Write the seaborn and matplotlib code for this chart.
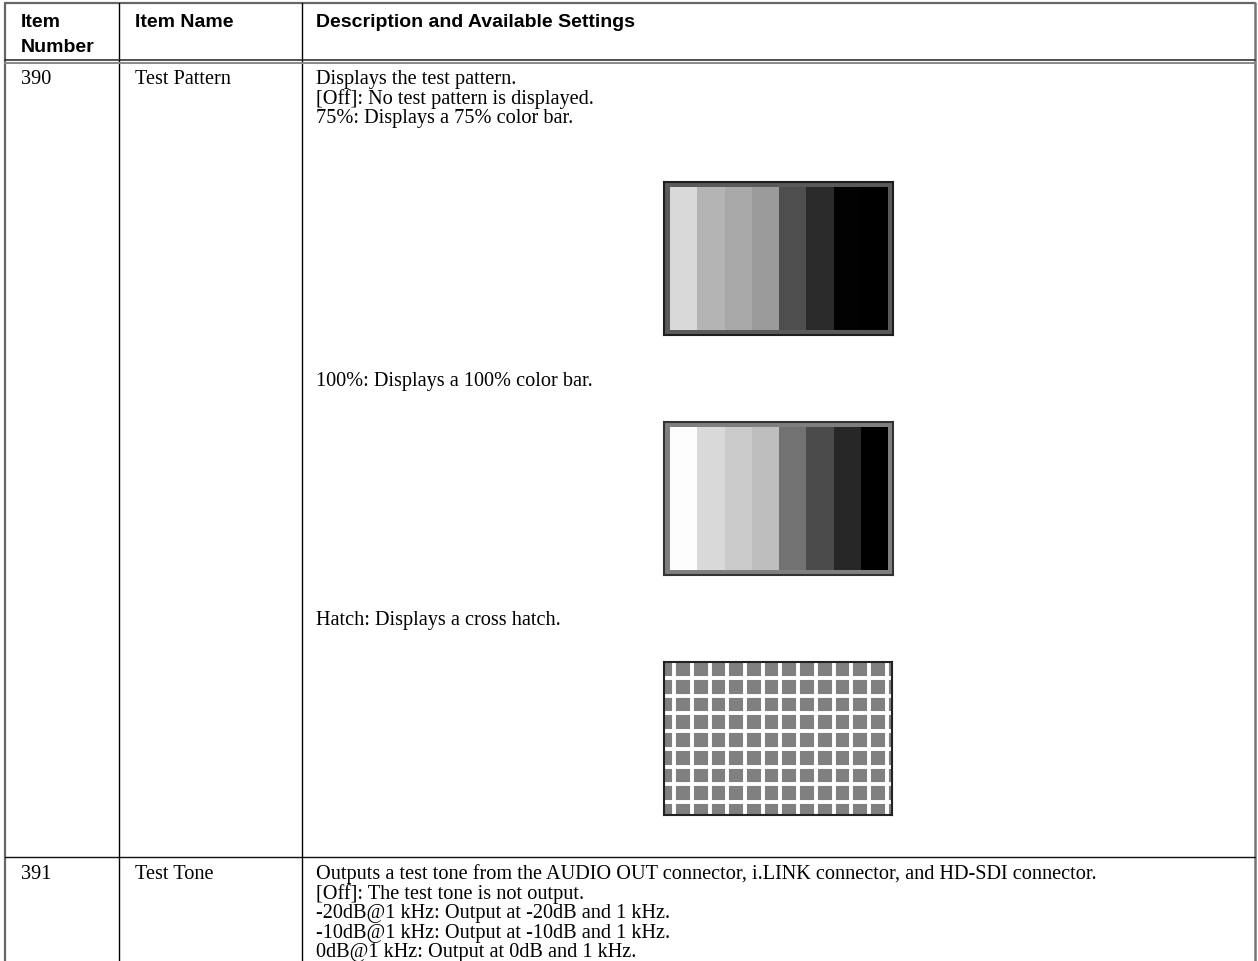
import numpy as np
import matplotlib
matplotlib.use("Agg")
import matplotlib.pyplot as plt
import seaborn as sns

sns.set_theme(style="white")

# ---- table content ----
header_labels = ["Item", "Number", "Item Name", "Description and Available Settings"]
item_numbers = ["390", "391"]
item_names = ["Test Pattern", "Test Tone"]
desc_390_top = ["Displays the test pattern.",
                "[Off]: No test pattern is displayed.",
                "75%: Displays a 75% color bar."]
desc_390_mid = "100%: Displays a 100% color bar."
desc_390_low = "Hatch: Displays a cross hatch."
desc_391 = ["Outputs a test tone from the AUDIO OUT connector, i.LINK connector, and HD-SDI connector.",
            "[Off]: The test tone is not output.",
            "-20dB@1 kHz: Output at -20dB and 1 kHz.",
            "-10dB@1 kHz: Output at -10dB and 1 kHz.",
            "0dB@1 kHz: Output at 0dB and 1 kHz."]

# grey levels (0-255) of the colour bar stripes
bar_levels_75 = [217, 180, 168, 155, 78, 42, 2, 0]
bar_levels_100 = [253, 217, 203, 190, 114, 75, 39, 0]

W, H = 1258, 962
fig = plt.figure(figsize=(W / 100, H / 100), dpi=100)
ax = fig.add_axes([0, 0, 1, 1])
ax.set_xlim(0, W)
ax.set_ylim(H, 0)
ax.axis("off")

serif = ["Liberation Serif", "DejaVu Serif"]
sans = ["Liberation Sans", "DejaVu Sans"]
fs_body = 14.6
fs_head = 14.0
col_x = [21, 135, 316]
line_gap = 19.6

# table frame
ax.plot([5, 1255], [4, 4], color="#666666", lw=1.6)
ax.plot([5, 5], [4, H], color="#666666", lw=1.6)
ax.plot([1255, 1255], [4, H], color="#777777", lw=1.8)
for x in [119, 302]:
    ax.plot([x, x], [4, H], color="black", lw=1.0)
ax.plot([5, 1255], [61, 61], color="#222222", lw=1.1)
ax.plot([5, 1255], [64, 64], color="#888888", lw=1.4)
ax.plot([5, 1255], [858, 858], color="#111111", lw=1.0)


def body(x, y, s):
    # y is the baseline in pixels
    ax.text(x, y, s, family=serif, fontsize=fs_body, color="black", va="baseline", ha="left")


def head(x, y, s):
    ax.text(x, y, s, family=sans, weight="bold", fontsize=fs_head, color="black",
            va="baseline", ha="left")


# header
head(col_x[0], 27, header_labels[0])
head(col_x[0], 52, header_labels[1])
head(col_x[1], 27, header_labels[2])
head(col_x[2], 27, header_labels[3])

# row 390
body(col_x[0], 84, item_numbers[0])
body(col_x[1], 84, item_names[0])
for i, line in enumerate(desc_390_top):
    body(col_x[2], 84 + i * line_gap, line)
body(col_x[2], 386, desc_390_mid)
body(col_x[2], 625, desc_390_low)

# row 391
body(col_x[0], 879, item_numbers[1])
body(col_x[1], 879, item_names[1])
for i, line in enumerate(desc_391):
    body(col_x[2], 879 + i * line_gap, line)


def px_box(x0, y0, x1, y1):
    return [x0 / W, 1 - y1 / H, (x1 - x0) / W, (y1 - y0) / H]


def color_bar(levels, box, frame_col, edge_col):
    x0, y0, x1, y1 = box
    outer = fig.add_axes(px_box(x0, y0, x1, y1))
    outer.set_facecolor(frame_col)
    outer.set_xticks([])
    outer.set_yticks([])
    for s in outer.spines.values():
        s.set_visible(True)
        s.set_color(edge_col)
        s.set_linewidth(1.5)
    inner = fig.add_axes(px_box(x0 + 6, y0 + 5, x1 - 5, y1 - 5))
    sns.heatmap(np.array([levels]), cmap="gray", vmin=0, vmax=255, cbar=False,
                xticklabels=False, yticklabels=False, ax=inner)


color_bar(bar_levels_75, (664, 183, 893, 336), "#5a5a5a", "#1e1e1e")
color_bar(bar_levels_100, (664, 423, 893, 576), "#7f7f7f", "#333333")

# cross hatch
hx0, hy0, hx1, hy1 = 664, 663, 892, 816
hatch = fig.add_axes(px_box(hx0, hy0, hx1, hy1))
hatch.set_facecolor("#808080")
hatch.set_xlim(0, hx1 - hx0)
hatch.set_ylim(hy1 - hy0, 0)
step = 17.7
hatch.set_xticks(10.3 + step * np.arange(13))
hatch.set_yticks(16 + step * np.arange(8))
hatch.tick_params(length=0, labelbottom=False, labelleft=False)
hatch.grid(True, color="white", lw=2.8)
for s in hatch.spines.values():
    s.set_visible(True)
    s.set_color("#222222")
    s.set_linewidth(1.5)

fig.savefig("out.png", dpi=100)
